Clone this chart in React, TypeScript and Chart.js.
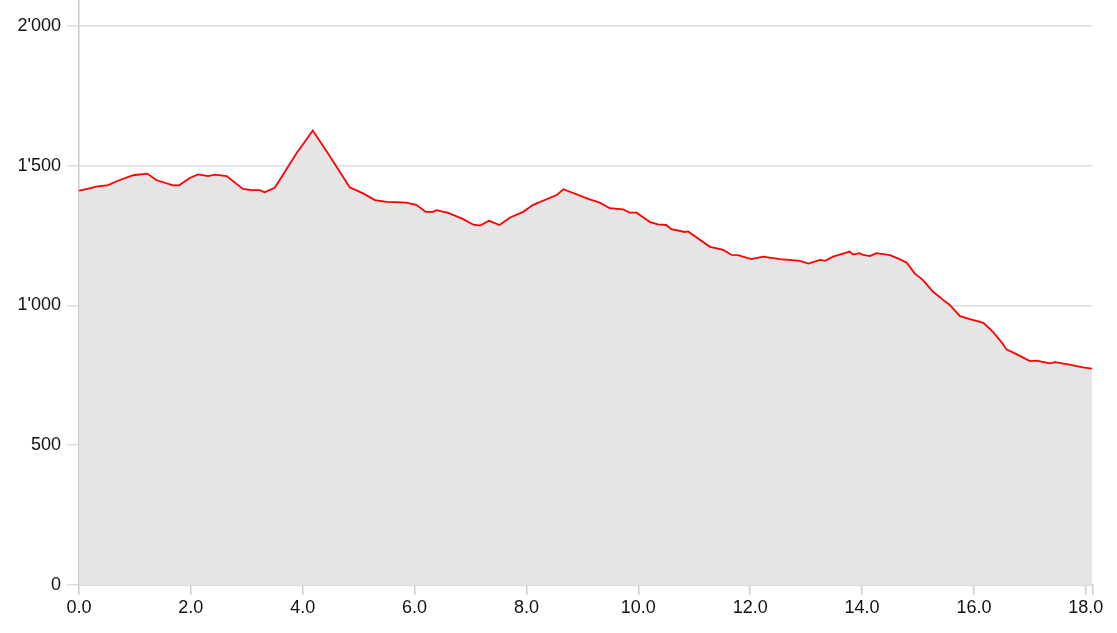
import React, { useEffect, useRef } from "react";
import { Chart, registerables } from "chart.js";

Chart.register(...registerables);

const distanceKm = [
  0.0, 0.19, 0.31, 0.52, 0.73, 0.97, 1.22, 1.38, 1.68, 1.79, 1.98, 2.13, 2.31, 2.43, 2.64, 2.93,
  3.08, 3.23, 3.32, 3.5, 3.89, 4.18, 4.45, 4.84, 5.08, 5.29, 5.5, 5.85, 6.03, 6.2, 6.33, 6.39,
  6.6, 6.87, 7.05, 7.17, 7.33, 7.52, 7.7, 7.94, 8.12, 8.54, 8.66, 9.13, 9.31, 9.49, 9.73, 9.85,
  9.97, 10.21, 10.35, 10.5, 10.59, 10.83, 10.89, 11.28, 11.52, 11.67, 11.78, 12.02, 12.23, 12.53,
  12.89, 13.04, 13.25, 13.34, 13.48, 13.72, 13.78, 13.84, 13.95, 14.02, 14.14, 14.26, 14.5, 14.68,
  14.8, 14.94, 15.09, 15.27, 15.45, 15.57, 15.75, 15.93, 16.17, 16.34, 16.52, 16.58, 16.76, 17.0,
  17.12, 17.36, 17.45, 17.66, 17.95, 18.11,
];

const elevationM = [
  1411, 1419, 1425, 1431, 1449, 1466, 1472, 1449, 1430, 1430, 1456, 1469, 1463, 1468, 1463, 1417,
  1413, 1413, 1405, 1421, 1545, 1626, 1545, 1423, 1401, 1377, 1371, 1368, 1360, 1335, 1335, 1341,
  1331, 1309, 1289, 1286, 1303, 1288, 1314, 1335, 1360, 1395, 1416, 1380, 1368, 1348, 1344, 1332,
  1332, 1298, 1290, 1288, 1273, 1263, 1265, 1210, 1199, 1181, 1180, 1166, 1175, 1166,
  1160, 1150, 1163, 1160, 1175, 1189, 1193, 1182, 1187, 1181, 1177, 1187, 1180, 1165,
  1153, 1115, 1091, 1049, 1020, 1002, 962, 951, 938, 906, 862, 843, 826, 801,
  803, 793, 797, 790, 779, 774,
];

const xTickValues = [0, 2, 4, 6, 8, 10, 12, 14, 16, 18];
const yTickValues = [0, 500, 1000, 1500, 2000];
const xMax = 18.12;
const yMax = 2093;

function formatThousands(v: number): string {
  const s = Math.round(v).toString();
  return s.replace(/\B(?=(\d{3})+(?!\d))/g, "'");
}

export default function App() {
  const canvasRef = useRef<HTMLCanvasElement | null>(null);

  useEffect(() => {
    if (!canvasRef.current) return;
    const points = distanceKm.map((x, i) => ({ x, y: elevationM[i] }));
    const chart = new Chart(canvasRef.current, {
      type: "line",
      data: {
        datasets: [
          {
            data: points,
            borderColor: "#ff0000",
            borderWidth: 1.8,
            backgroundColor: "#e5e5e5",
            fill: "origin",
            pointRadius: 0,
            tension: 0,
          },
        ],
      },
      options: {
        animation: false,
        responsive: true,
        maintainAspectRatio: false,
        layout: { padding: { left: 0, top: 0, right: 24.5, bottom: 0 } },
        plugins: { legend: { display: false }, tooltip: { enabled: false } },
        scales: {
          x: {
            type: "linear",
            min: 0,
            max: xMax,
            afterBuildTicks: (scale: any) => {
              scale.ticks = [...xTickValues, xMax].map((v) => ({ value: v }));
            },
            afterFit: (scale: any) => {
              scale.height = 48;
              scale.paddingLeft = 0;
              scale.paddingRight = 0;
            },
            ticks: {
              autoSkip: false,
              maxRotation: 0,
              padding: 2,
              color: "#111",
              font: { family: "Liberation Sans, Arial, sans-serif", size: 18 },
              callback: (value: any) => (value === xMax ? "" : Number(value).toFixed(1)),
            },
            grid: {
              drawOnChartArea: false,
              drawTicks: true,
              tickLength: 10,
              color: "#cccccc",
              lineWidth: 1.5,
            },
            border: { color: "#cccccc", width: 1.5 },
          },
          y: {
            type: "linear",
            min: 0,
            max: yMax,
            afterBuildTicks: (scale: any) => {
              scale.ticks = yTickValues.map((v) => ({ value: v }));
            },
            afterFit: (scale: any) => {
              scale.width = 79;
              scale.paddingTop = 0;
              scale.paddingBottom = 0;
            },
            ticks: {
              padding: 6,
              color: "#111",
              font: { family: "Liberation Sans, Arial, sans-serif", size: 18 },
              callback: (value: any) => formatThousands(Number(value)),
            },
            grid: {
              color: "#dddddd",
              lineWidth: 1.5,
              tickLength: 12,
            },
            border: { color: "#cccccc", width: 1.5 },
          },
        },
      },
    });
    return () => chart.destroy();
  }, []);

  return (
    <div style={{ position: "absolute", left: 0, top: 0, width: 1117, height: 633, background: "#fff" }}>
      <canvas ref={canvasRef} />
    </div>
  );
}
